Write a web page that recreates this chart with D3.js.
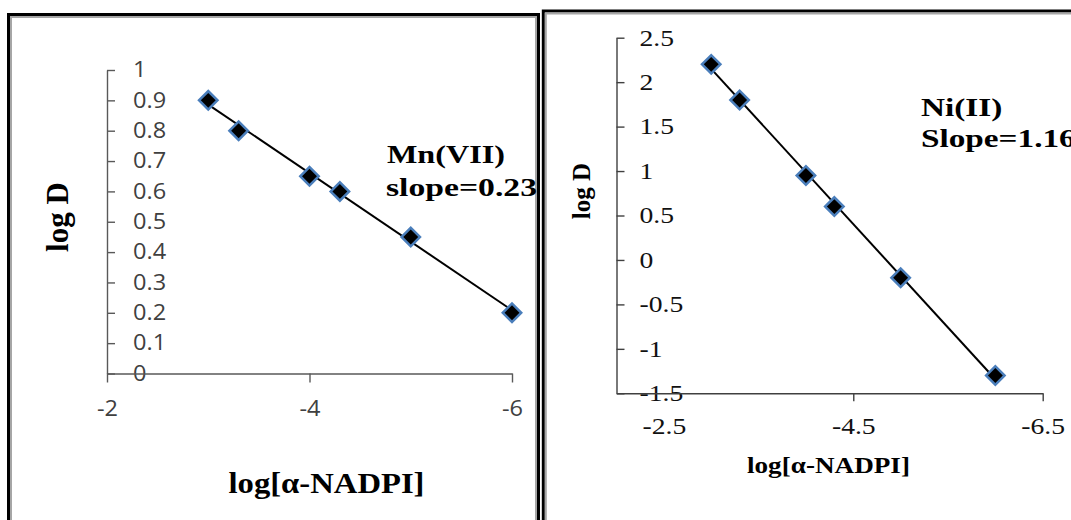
<!DOCTYPE html>
<html>
<head>
<meta charset="utf-8">
<script src="https://cdn.jsdelivr.net/npm/d3@7"></script>
<style>
  body { margin: 0; background: #fff; }
  svg { display: block; }
</style>
</head>
<body>
<svg id="fig" width="1071" height="520"></svg>
<script>
// x values shared by both panels: log[α-NADPI]
const logNADPI = [-3, -3.3, -4, -4.3, -5, -6];
// log D for each metal
const logD_Mn = [0.9, 0.8, 0.65, 0.6, 0.45, 0.2];
const logD_Ni = [2.2, 1.8, 0.95, 0.6, -0.2, -1.3];

// tick values
const mnYTicks = [0, 0.1, 0.2, 0.3, 0.4, 0.5, 0.6, 0.7, 0.8, 0.9, 1];
const mnXTicks = [-2, -4, -6];
const niYTicks = [-1.5, -1, -0.5, 0, 0.5, 1, 1.5, 2, 2.5];
const niXTicks = [-2.5, -4.5, -6.5];

// labels
const mnNote = ["Mn(VII)", "slope=0.23"];
const niNote = ["Ni(II)", "Slope=1.16"];
const xTitle = "log[α-NADPI]";
const yTitle = "log D";

const svg = d3.select("#fig");
const serif = "'Liberation Serif', 'Times New Roman', serif";

// least squares line through the points (Excel style linear trendline)
function linFit(xs, ys) {
  const mx = d3.mean(xs), my = d3.mean(ys);
  const sxy = d3.sum(xs, (x, i) => (x - mx) * (ys[i] - my));
  const sxx = d3.sum(xs, x => (x - mx) * (x - mx));
  const b = sxy / sxx;
  return x => my + b * (x - mx);
}

// stretch texts horizontally by factor k
function stretch(sel, k) {
  sel.each(function() {
    const w = this.getComputedTextLength();
    d3.select(this).attr("textLength", w * k).attr("lengthAdjust", "spacingAndGlyphs");
  });
}

// panel frames: black outer line with a grey inner line
function frame(x, y) {
  svg.append("rect")
    .attr("x", x).attr("y", y).attr("width", 600).attr("height", 600)
    .attr("fill", "#fff").attr("stroke", "#000").attr("stroke-width", 3);
  svg.append("rect")
    .attr("x", x + 2.5).attr("y", y + 2.5).attr("width", 595).attr("height", 595)
    .attr("fill", "none").attr("stroke", "#a6a6a6").attr("stroke-width", 2);
}
frame(8.5, 14.5);
svg.select("rect").attr("width", 530);
svg.selectAll("rect").filter((d, i) => i === 1).attr("width", 525);
frame(543.3, 11);

function markers(g, x, y, ys) {
  g.selectAll("path.pt")
    .data(logNADPI)
    .enter().append("path")
      .attr("class", "pt")
      .attr("d", d3.symbol(d3.symbolSquare, 170))
      .attr("transform", (d, i) => `translate(${x(d)},${y(ys[i])}) rotate(45)`)
      .attr("fill", "#000")
      .attr("stroke", "#4a7ebb")
      .attr("stroke-width", 2.5);
}

function trend(g, x, y, ys) {
  const f = linFit(logNADPI, ys);
  const ext = d3.extent(logNADPI);
  g.append("line")
    .attr("x1", x(ext[0])).attr("y1", y(f(ext[0])))
    .attr("x2", x(ext[1])).attr("y2", y(f(ext[1])))
    .attr("stroke", "#000").attr("stroke-width", 2);
}

// ---------- left panel: Mn(VII) ----------
const xL = d3.scaleLinear().domain([-2, -6]).range([107, 512]);
const yL = d3.scaleLinear().domain([0, 1]).range([373.5, 70]);
const left = svg.append("g");

left.append("g")
  .attr("transform", `translate(${xL(-2)},0)`)
  .call(d3.axisRight(yL).tickValues(mnYTicks).tickSize(8).tickSizeOuter(0)
    .tickPadding(18).tickFormat(d => String(d)));
left.append("g")
  .attr("transform", `translate(0,${yL(0)})`)
  .call(d3.axisBottom(xL).tickValues(mnXTicks).tickSize(9).tickSizeOuter(0)
    .tickPadding(19).tickFormat(d => String(d)));
left.selectAll(".domain, .tick line").attr("stroke", "#595959").attr("stroke-width", 1.4);
left.selectAll(".tick text")
  .attr("fill", "#404040")
  .style("font-family", "'Open Sans', sans-serif")
  .style("font-size", "21px")
  .call(stretch, 1.12);

trend(left, xL, yL, logD_Mn);
markers(left, xL, yL, logD_Mn);

left.append("text")
  .attr("transform", "translate(68,217) rotate(-90)")
  .attr("text-anchor", "middle")
  .style("font", `bold 31px ${serif}`)
  .text(yTitle);
left.append("text")
  .attr("x", 326.5).attr("y", 493)
  .attr("text-anchor", "middle")
  .style("font", `bold 29px ${serif}`)
  .attr("textLength", 196).attr("lengthAdjust", "spacingAndGlyphs")
  .text(xTitle);
left.append("text")
  .attr("x", 387).attr("y", 163)
  .style("font", `bold 26px ${serif}`)
  .attr("textLength", 118).attr("lengthAdjust", "spacingAndGlyphs")
  .text(mnNote[0]);
left.append("text")
  .attr("x", 386).attr("y", 196)
  .style("font", `bold 26px ${serif}`)
  .attr("textLength", 151).attr("lengthAdjust", "spacingAndGlyphs")
  .text(mnNote[1]);

// ---------- right panel: Ni(II) ----------
const xR = d3.scaleLinear().domain([-2, -6.5]).range([616.5, 1042.7]);
const yR = d3.scaleLinear().domain([-1.5, 2.5]).range([393.3, 37.7]);
const right = svg.append("g");

right.append("g")
  .attr("transform", `translate(${xR(-2)},0)`)
  .call(d3.axisRight(yR).tickValues(niYTicks).tickSize(8).tickSizeOuter(0)
    .tickPadding(15).tickFormat(d => String(d)));
right.append("g")
  .attr("transform", `translate(0,${yR(-1.5)})`)
  .call(d3.axisBottom(xR).tickValues(niXTicks).tickSize(8).tickSizeOuter(0)
    .tickPadding(16).tickFormat(d => String(d)))
  .call(g => g.selectAll(".tick").filter(d => d === -2.5).select("line").remove());
right.selectAll(".domain, .tick line").attr("stroke", "#404040").attr("stroke-width", 1.4);
right.selectAll(".tick text")
  .attr("fill", "#111")
  .style("font-family", serif)
  .style("font-size", "23px")
  .call(stretch, 1.2);

trend(right, xR, yR, logD_Ni);
markers(right, xR, yR, logD_Ni);

right.append("text")
  .attr("transform", "translate(590,191) rotate(-90)")
  .attr("text-anchor", "middle")
  .style("font", `bold 25px ${serif}`)
  .text(yTitle);
right.append("text")
  .attr("x", 828.5).attr("y", 473)
  .attr("text-anchor", "middle")
  .style("font", `bold 23px ${serif}`)
  .attr("textLength", 163).attr("lengthAdjust", "spacingAndGlyphs")
  .text(xTitle);
right.append("text")
  .attr("x", 921).attr("y", 116)
  .style("font", `bold 25px ${serif}`)
  .text(niNote[0])
  .call(stretch, 1.33);
right.append("text")
  .attr("x", 921).attr("y", 147)
  .style("font", `bold 25px ${serif}`)
  .text(niNote[1])
  .call(stretch, 1.33);
</script>
</body>
</html>
